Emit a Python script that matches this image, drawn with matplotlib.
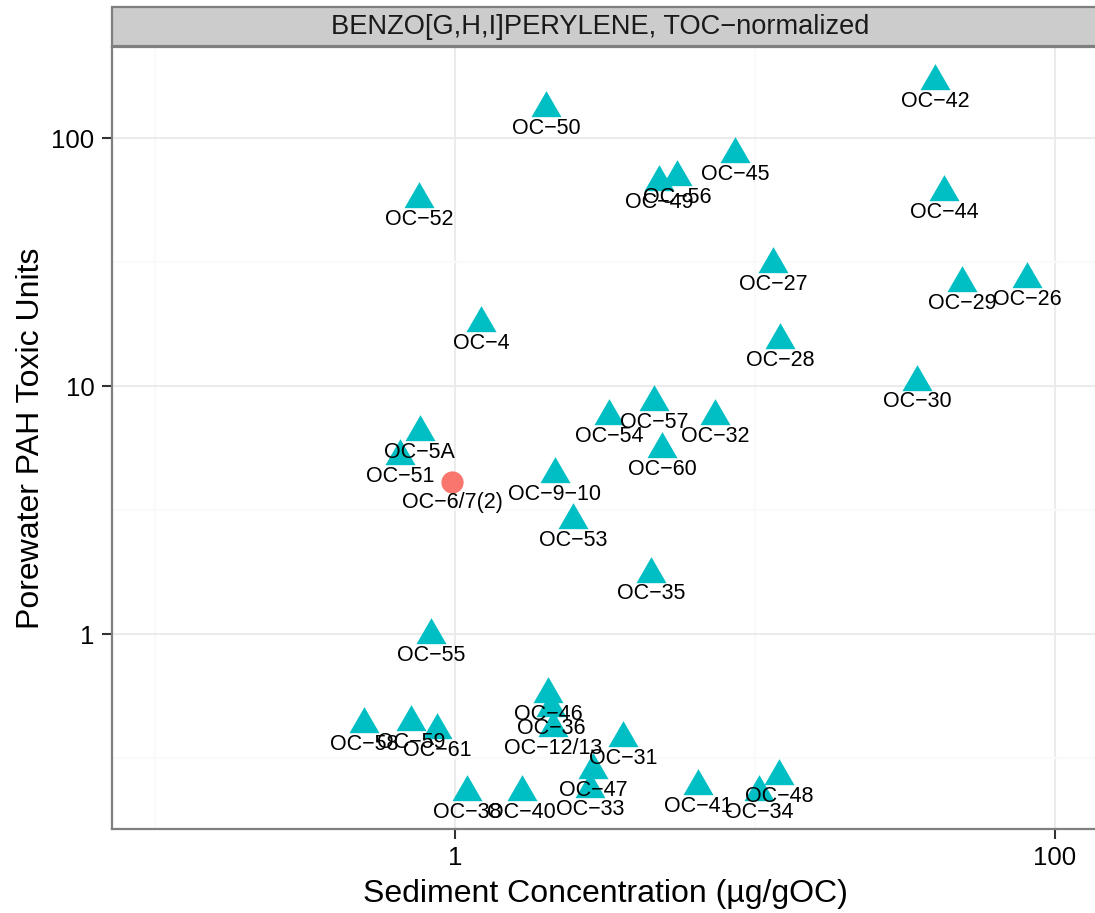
import matplotlib
matplotlib.use("Agg")
import matplotlib.pyplot as plt
import numpy as np
from matplotlib.ticker import FixedLocator, FixedFormatter
from matplotlib.patches import Rectangle

plt.rcParams['font.family'] = ['Liberation Sans', 'DejaVu Sans']

# ---- data ----
labels = ["OC−42", "OC−50", "OC−45", "OC−49", "OC−56", "OC−52", "OC−44", "OC−27",
          "OC−29", "OC−26", "OC−4", "OC−28", "OC−30", "OC−57", "OC−54", "OC−32",
          "OC−60", "OC−5A", "OC−51", "OC−9−10", "OC−53", "OC−35", "OC−55",
          "OC−46", "OC−36", "OC−12/13", "OC−31", "OC−47", "OC−33", "OC−40",
          "OC−38", "OC−41", "OC−48", "OC−34", "OC−58", "OC−59", "OC−61"]
sed_conc = [39.8, 2.01, 8.58, 4.79, 5.50, 0.759, 42.7, 11.5,
            49.0, 80.7, 1.22, 12.1, 34.7, 4.61, 3.26, 7.36,
            4.90, 0.764, 0.656, 2.15, 2.47, 4.50, 0.832,
            2.04, 2.09, 2.12, 3.63, 2.88, 2.82, 1.67,
            1.10, 6.46, 12.0, 10.3, 0.497, 0.714, 0.871]
toxic_units = [169.8, 132.0, 86.2, 66.5, 69.6, 56.8, 60.6, 31.0,
               26.0, 27.0, 17.9, 15.3, 10.4, 8.62, 7.57, 7.57,
               5.57, 6.52, 5.22, 4.42, 2.88, 1.75, 0.99,
               0.573, 0.503, 0.418, 0.381, 0.283, 0.237, 0.231,
               0.231, 0.244, 0.268, 0.231, 0.434, 0.442, 0.410]

circle_labels = ["OC−6/7(2)"]
circle_sed_conc = [0.977]
circle_toxic_units = [4.10]

x_ticks = [1, 100]
x_ticklabels = ["1", "100"]
y_ticks = [1, 10, 100]
y_ticklabels = ["1", "10", "100"]

title = "BENZO[G,H,I]PERYLENE, TOC−normalized"
xlabel = "Sediment Concentration (µg/gOC)"
ylabel = "Porewater PAH Toxic Units"

# ---- figure ----
W, H = 1095, 913
fig = plt.figure(figsize=(W / 100, H / 100), dpi=100)

px_left, px_right, px_top, px_bottom = 111.7, 1100, 47, 829
ax = fig.add_axes([px_left / W, 1 - px_bottom / H,
                   (px_right - px_left) / W, (px_bottom - px_top) / H])
ax.set_xscale('log')
ax.set_yscale('log')
ax.set_xlim(10 ** ((px_left - 455) / 300), 10 ** ((px_right - 455) / 300))
ax.set_ylim(10 ** ((634 - px_bottom) / 248), 10 ** ((634 - px_top) / 248))

# grid
ax.xaxis.set_major_locator(FixedLocator(x_ticks))
ax.xaxis.set_major_formatter(FixedFormatter(x_ticklabels))
ax.yaxis.set_major_locator(FixedLocator(y_ticks))
ax.yaxis.set_major_formatter(FixedFormatter(y_ticklabels))
ax.xaxis.set_minor_locator(FixedLocator([0.1, 10, 1000]))
ax.yaxis.set_minor_locator(FixedLocator([10 ** -0.5, 10 ** 0.5, 10 ** 1.5]))
ax.xaxis.set_minor_formatter(FixedFormatter([]))
ax.yaxis.set_minor_formatter(FixedFormatter([]))
ax.grid(which='major', color='#EBEBEB', linewidth=1.5)
ax.grid(which='minor', color='#FAFAFA', linewidth=1.5)
ax.set_axisbelow(True)
ax.tick_params(which='minor', length=0)
ax.tick_params(which='major', length=7.5, width=1.5, color='#333333',
               labelsize=18.6, labelcolor='black', pad=5)

for s in ax.spines.values():
    s.set_color('#7F7F7F')
    s.set_linewidth(1.6)

# triangle marker centred on its centroid
tri = [(0, 1), (-0.866, -0.5), (0.866, -0.5), (0, 1)]

ax.plot(sed_conc, toxic_units, linestyle='none', marker=tri, markersize=25,
        color='#00BFC4', markeredgewidth=0, zorder=3)
ax.plot(circle_sed_conc, circle_toxic_units, linestyle='none', marker='o',
        markersize=16, color='#F8766D', markeredgewidth=0, zorder=3)

for lab, xv, yv in list(zip(labels, sed_conc, toxic_units)) + \
        list(zip(circle_labels, circle_sed_conc, circle_toxic_units)):
    ax.annotate(lab, (xv, yv), xytext=(0, -18.5), textcoords='offset points',
                ha='center', va='baseline', fontsize=15.5, color='black',
                zorder=4, annotation_clip=False)

ax.set_xlabel(xlabel, fontsize=23, labelpad=6)
ax.set_ylabel(ylabel, fontsize=23, labelpad=4)

# strip
strip_top, strip_bottom = 7, 46
rect = Rectangle((px_left / W, 1 - strip_bottom / H),
                 (px_right - px_left) / W, (strip_bottom - strip_top) / H,
                 transform=fig.transFigure, facecolor='#CCCCCC',
                 edgecolor='#7F7F7F', linewidth=1.6, zorder=5)
fig.patches.append(rect)
fig.text(600.5 / W, 1 - (strip_top + strip_bottom) / 2 / H,
         title, ha='center', va='center', fontsize=19.6, color='#1A1A1A', zorder=6)

fig.savefig("out.png", dpi=100)
